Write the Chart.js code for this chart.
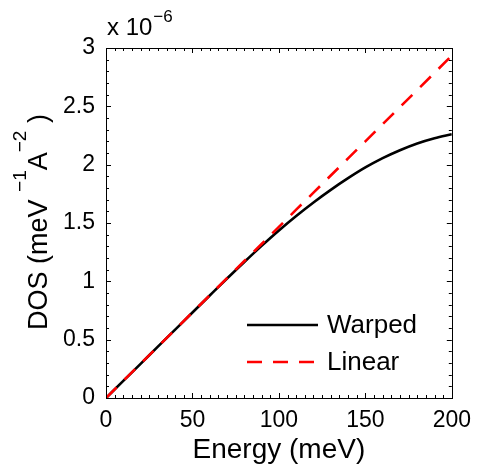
<!DOCTYPE html>
<html>
<head>
<meta charset="utf-8">
<script src="https://cdn.jsdelivr.net/npm/chart.js@4"></script>
<style>
  html, body { margin: 0; padding: 0; background: #fff; }
  canvas { display: block; }
</style>
</head>
<body>
<canvas id="dosChart" width="480" height="468"></canvas>
<script>
/* ── DATA (DOS in units of 1e-6 meV^-1 A^-2) ─────────────── */
const energy     = [0, 10, 20, 30, 40, 50, 60, 70, 80, 90, 100, 110, 120, 130, 140, 150, 160, 170, 180, 190, 200];
const dosWarped  = [0, 0.147, 0.293, 0.44, 0.586, 0.733, 0.879, 1.024, 1.166, 1.304, 1.436, 1.56, 1.676, 1.784, 1.884, 1.976, 2.056, 2.124, 2.182, 2.227, 2.261];
const dosLinear  = [0, 0.147, 0.293, 0.44, 0.587, 0.734, 0.88, 1.027, 1.174, 1.32, 1.467, 1.614, 1.76, 1.907, 2.054, 2.2, 2.347, 2.494, 2.64, 2.787, 2.935];
const xTicks     = [0, 50, 100, 150, 200];
const yTicks     = [0, 0.5, 1, 1.5, 2, 2.5, 3];
const seriesNames = ['Warped', 'Linear'];

const FONT = "'Liberation Sans', Arial, Helvetica, sans-serif";

const toPoints = ys => ys.map((y, i) => ({ x: energy[i], y }));

/* ── FRAME, INWARD TICKS, LABELS, LEGEND ─────────────────── */
const matlabAxes = {
  id: 'matlabAxes',
  afterDatasetsDraw(chart) {
    const { ctx, chartArea: a, scales: { x, y } } = chart;
    ctx.save();
    ctx.strokeStyle = '#000';
    ctx.lineWidth = 1;

    // ticks on all four sides, pointing inward
    const tick = (px, len, vertical) => {
      ctx.beginPath();
      if (vertical) {
        ctx.moveTo(px, a.bottom); ctx.lineTo(px, a.bottom - len);
        ctx.moveTo(px, a.top);    ctx.lineTo(px, a.top + len);
      } else {
        ctx.moveTo(a.left, px);  ctx.lineTo(a.left + len, px);
        ctx.moveTo(a.right, px); ctx.lineTo(a.right - len, px);
      }
      ctx.stroke();
    };
    for (let v = x.min; v <= x.max + 1e-9; v += 5) {
      const major = xTicks.includes(v);
      tick(Math.round(x.getPixelForValue(v)) + 0.5, major ? 5 : 3, true);
    }
    for (let k = 0; k <= 30; k++) {
      const major = k % 5 === 0;
      tick(Math.round(y.getPixelForValue(k / 10)) + 0.5, major ? 5 : 3, false);
    }

    // box
    ctx.strokeRect(Math.round(a.left) + 0.5, Math.round(a.top) + 0.5,
                   Math.round(a.right - a.left), Math.round(a.bottom - a.top));

    ctx.fillStyle = '#000';
    ctx.textBaseline = 'alphabetic';

    // exponent label  x 10^-6
    ctx.textAlign = 'left';
    ctx.font = '24px ' + FONT;
    ctx.fillText('x 10', a.left + 1, 35);
    const w10 = ctx.measureText('x 10').width;
    ctx.font = '17px ' + FONT;
    ctx.fillText('\u22126', a.left + 1 + w10 + 1, 22);

    // x axis title
    ctx.font = '28px ' + FONT;
    ctx.textAlign = 'center';
    ctx.fillText('Energy (meV)', (a.left + a.right) / 2, 458);

    // y axis title (rotated, with superscripts)
    const parts = [
      ['DOS (meV ', 27, 0],
      ['\u22121', 19, 21],
      ['A', 27, 0],
      ['\u22122', 19, 21],
      [' )', 27, 0]
    ];
    let total = 0;
    parts.forEach(p => { ctx.font = p[1] + 'px ' + FONT; total += ctx.measureText(p[0]).width; });
    ctx.translate(47, 222);
    ctx.rotate(-Math.PI / 2);
    ctx.textAlign = 'left';
    let cx = -total / 2;
    parts.forEach(p => {
      ctx.font = p[1] + 'px ' + FONT;
      ctx.fillText(p[0], cx, -p[2]);
      cx += ctx.measureText(p[0]).width;
    });
    ctx.setTransform(1, 0, 0, 1, 0, 0);

    // legend (no box)
    const ds = chart.data.datasets;
    const rows = [325, 362];
    seriesNames.forEach((name, i) => {
      const d = ds.find(s => s.label === name);
      ctx.beginPath();
      ctx.strokeStyle = d.borderColor;
      ctx.lineWidth = d.borderWidth;
      ctx.setLineDash(d.borderDash || []);
      ctx.moveTo(247, rows[i]);
      ctx.lineTo(318, rows[i]);
      ctx.stroke();
      ctx.setLineDash([]);
      ctx.font = '26px ' + FONT;
      ctx.textBaseline = 'middle';
      ctx.textAlign = 'left';
      ctx.fillText(name, 327, rows[i] + 1);
    });
    ctx.restore();
  }
};

/* ── CHART ───────────────────────────────────────────────── */
new Chart(document.getElementById('dosChart'), {
  type: 'line',
  data: {
    datasets: [
      {
        label: 'Linear',
        data: toPoints(dosLinear),
        borderColor: '#ff0000',
        borderWidth: 2.6,
        borderDash: [15, 11],
        pointRadius: 0,
        tension: 0,
      },
      {
        label: 'Warped',
        data: toPoints(dosWarped),
        borderColor: '#000000',
        borderWidth: 2.6,
        pointRadius: 0,
        cubicInterpolationMode: 'monotone',
      }
    ]
  },
  options: {
    responsive: false,
    animation: false,
    devicePixelRatio: 1,
    layout: { padding: { top: 48, right: 25, left: 0, bottom: 0 } },
    plugins: { legend: { display: false }, tooltip: { enabled: false } },
    scales: {
      x: {
        type: 'linear',
        min: 0, max: 200,
        afterBuildTicks: s => { s.ticks = xTicks.map(v => ({ value: v })); },
        afterFit: s => { s.height = 70; },
        ticks: { color: '#000', font: { family: FONT, size: 23 }, padding: 9, maxRotation: 0,
                 callback: v => String(v) },
        grid: { display: false, drawTicks: false },
        border: { display: false }
      },
      y: {
        min: 0, max: 3,
        afterBuildTicks: s => { s.ticks = yTicks.map(v => ({ value: v })); },
        afterFit: s => { s.width = 106; },
        ticks: { color: '#000', font: { family: FONT, size: 23 }, padding: 11,
                 callback: v => String(v) },
        grid: { display: false, drawTicks: false },
        border: { display: false }
      }
    }
  },
  plugins: [matlabAxes]
});
</script>
</body>
</html>
